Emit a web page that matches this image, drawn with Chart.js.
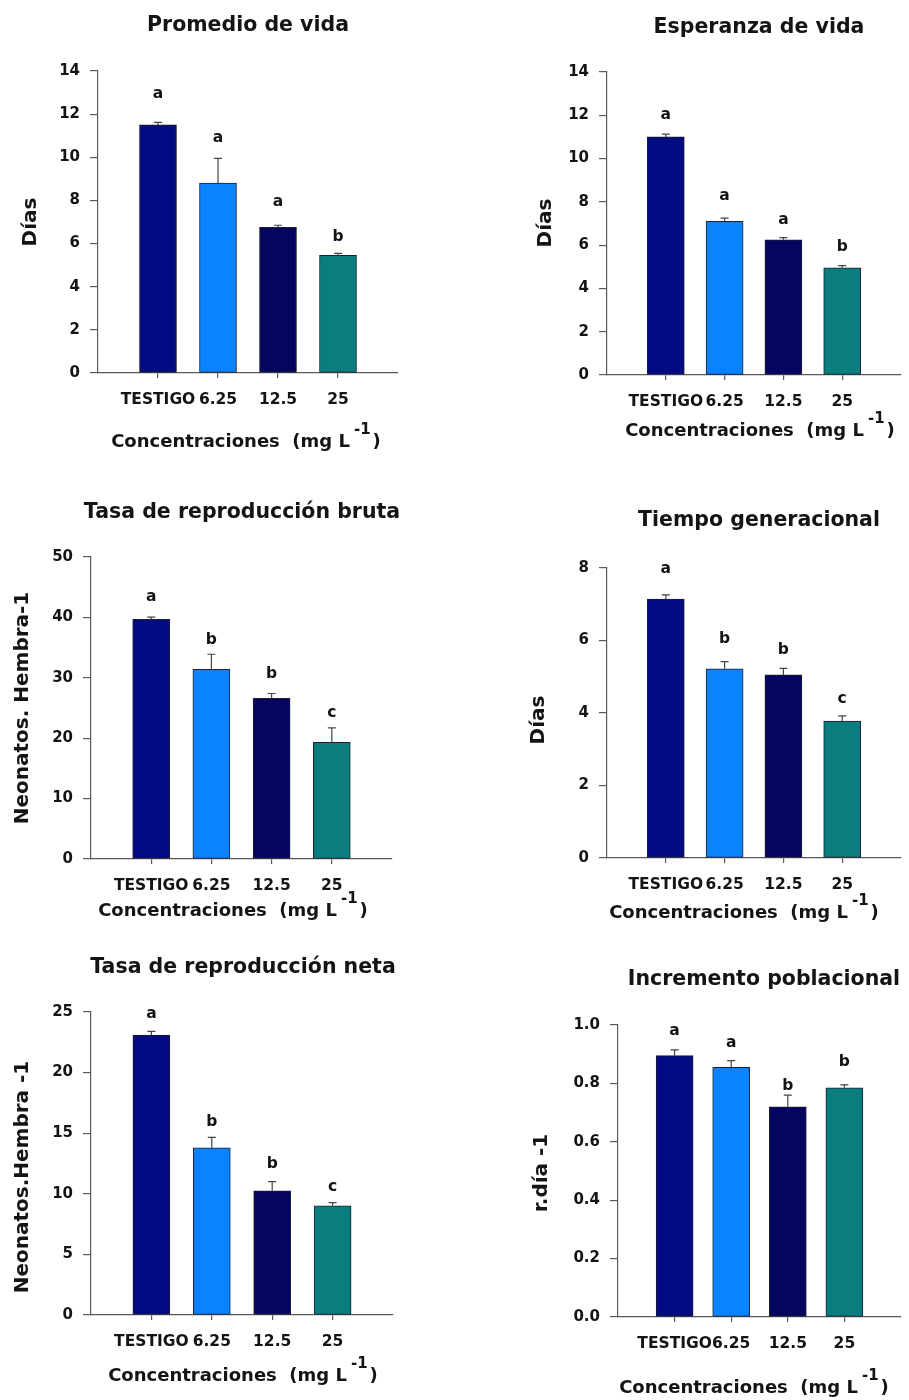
<!DOCTYPE html>
<html>
<head>
<meta charset="utf-8">
<script src="https://cdn.jsdelivr.net/npm/chart.js@4.4.1/dist/chart.umd.min.js"></script>
<style>
  html, body { margin: 0; padding: 0; background: #ffffff; width: 909px; height: 1400px; overflow: hidden; }
  canvas { position: absolute; }
</style>
</head>
<body>
<canvas id="c1"></canvas>
<canvas id="c2"></canvas>
<canvas id="c3"></canvas>
<canvas id="c4"></canvas>
<canvas id="c5"></canvas>
<canvas id="c6"></canvas>
<script>
// ---- data ----
const categories = ['TESTIGO', '6.25', '12.5', '25'];

const promedioVida      = [11.5, 8.8, 6.75, 5.45];
const promedioVidaErr   = [0.12, 1.15, 0.1, 0.1];
const promedioVidaGrp   = ['a', 'a', 'a', 'b'];
const promedioVidaGrpAt = [12.95, 10.9, 7.95, 6.3];

const esperanzaVida      = [11.0, 7.1, 6.25, 4.95];
const esperanzaVidaErr   = [0.13, 0.15, 0.1, 0.1];
const esperanzaVidaGrp   = ['a', 'a', 'a', 'b'];
const esperanzaVidaGrpAt = [12.0, 8.26, 7.15, 5.92];

const tasaBruta      = [39.7, 31.4, 26.6, 19.3];
const tasaBrutaErr   = [0.35, 2.5, 0.8, 2.4];
const tasaBrutaGrp   = ['a', 'b', 'b', 'c'];
const tasaBrutaGrpAt = [43.4, 36.2, 30.6, 24.2];

const tiempoGen      = [7.14, 5.22, 5.05, 3.78];
const tiempoGenErr   = [0.12, 0.2, 0.18, 0.14];
const tiempoGenGrp   = ['a', 'b', 'b', 'c'];
const tiempoGenGrpAt = [7.98, 6.05, 5.75, 4.4];

const tasaNeta      = [23.1, 13.8, 10.25, 9.0];
const tasaNetaErr   = [0.3, 0.85, 0.75, 0.28];
const tasaNetaGrp   = ['a', 'b', 'b', 'c'];
const tasaNetaGrpAt = [24.85, 15.95, 12.5, 10.6];

const incremento      = [0.895, 0.855, 0.72, 0.785];
const incrementoErr   = [0.02, 0.023, 0.04, 0.01];
const incrementoGrp   = ['a', 'a', 'b', 'b'];
const incrementoGrpAt = [0.98, 0.937, 0.79, 0.872];

// ---- styling ----
const barColors = ['#020b82', '#0b82ff', '#03055f', '#0a7d7e'];
const axisColor = '#5a5a5a';
const textColor = '#141414';
const FONT = '"DejaVu Sans", sans-serif';
const X_SCALE_H = 40;

// canvas box [left, top, width, height], plot area [left, top, right, bottom]
const panels = [
  { id: 'c1', box: [0, 0, 454, 470],     area: [98, 71, 398, 373],    max: 14,  step: 2,
    title: 'Promedio de vida', titleAt: [248, 26], yTitle: 'Días', yTitleAt: [31, 222], xTitleAt: [246, 442],
    values: promedioVida, err: promedioVidaErr, grp: promedioVidaGrp, grpAt: promedioVidaGrpAt },
  { id: 'c2', box: [454, 0, 460, 470],   area: [607, 72, 907, 375],   max: 14,  step: 2,
    title: 'Esperanza de vida', titleAt: [759, 28], yTitle: 'Días', yTitleAt: [546, 223], xTitleAt: [760, 431],
    values: esperanzaVida, err: esperanzaVidaErr, grp: esperanzaVidaGrp, grpAt: esperanzaVidaGrpAt },
  { id: 'c3', box: [0, 470, 454, 470],   area: [91, 557, 392, 859],   max: 50,  step: 10,
    title: 'Tasa de reproducción bruta', titleAt: [242, 513], yTitle: 'Neonatos. Hembra-1', yTitleAt: [23, 708], xTitleAt: [233, 911],
    values: tasaBruta, err: tasaBrutaErr, grp: tasaBrutaGrp, grpAt: tasaBrutaGrpAt },
  { id: 'c4', box: [454, 470, 460, 470], area: [607, 568, 907, 858],  max: 8,   step: 2,
    title: 'Tiempo generacional', titleAt: [759, 521], yTitle: 'Días', yTitleAt: [539, 720], xTitleAt: [744, 913],
    values: tiempoGen, err: tiempoGenErr, grp: tiempoGenGrp, grpAt: tiempoGenGrpAt },
  { id: 'c5', box: [0, 940, 454, 460],   area: [91, 1012, 393, 1315], max: 25,  step: 5,
    title: 'Tasa de reproducción neta', titleAt: [243, 968], yTitle: 'Neonatos.Hembra -1', yTitleAt: [23, 1177], xTitleAt: [243, 1376],
    values: tasaNeta, err: tasaNetaErr, grp: tasaNetaGrp, grpAt: tasaNetaGrpAt },
  { id: 'c6', box: [454, 940, 460, 460], area: [618, 1025, 911, 1317], max: 1.0, step: 0.2, decimals: 1,
    title: 'Incremento poblacional', titleAt: [764, 980], yTitle: 'r.día -1', yTitleAt: [542, 1173], xTitleAt: [754, 1388],
    values: incremento, err: incrementoErr, grp: incrementoGrp, grpAt: incrementoGrpAt }
];

// empty slot on each side of the four concentrations
const pad = a => [null, ...a, null];

// error bars, group letters and all panel texts
const annotate = {
  id: 'annotate',
  afterDatasetsDraw(chart, args, o) {
    const ctx = chart.ctx;
    const ys = chart.scales.y;
    const meta = chart.getDatasetMeta(0);
    const data = chart.data.datasets[0].data;
    ctx.save();
    meta.data.forEach((bar, i) => {
      const v = data[i];
      if (v == null) return;
      const e = o.err[i];
      const x = bar.x;
      const y0 = ys.getPixelForValue(v);
      const y1 = ys.getPixelForValue(v + e);
      ctx.strokeStyle = '#444444';
      ctx.lineWidth = 1.2;
      ctx.beginPath();
      ctx.moveTo(x, y0); ctx.lineTo(x, y1);
      ctx.moveTo(x - 4, y1); ctx.lineTo(x + 4, y1);
      ctx.stroke();
      ctx.fillStyle = textColor;
      ctx.font = 'bold 15.5px ' + FONT;
      ctx.textAlign = 'center';
      ctx.textBaseline = 'middle';
      ctx.fillText(o.grp[i], x, ys.getPixelForValue(o.grpAt[i]));
    });
    ctx.restore();
  },
  afterDraw(chart, args, o) {
    const ctx = chart.ctx;
    ctx.save();
    ctx.fillStyle = textColor;
    ctx.textBaseline = 'middle';
    // title
    ctx.font = 'bold 20.5px ' + FONT;
    ctx.textAlign = 'center';
    ctx.fillText(o.title, o.titleAt[0], o.titleAt[1]);
    // y title
    ctx.save();
    ctx.translate(o.yTitleAt[0], o.yTitleAt[1]);
    ctx.rotate(-Math.PI / 2);
    ctx.font = 'bold 20px ' + FONT;
    ctx.fillText(o.yTitle, 0, 0);
    ctx.restore();
    // x title with superscript
    const main = 'bold 18px ' + FONT, sup = 'bold 15px ' + FONT;
    const p1 = 'Concentraciones  (mg L', p2 = '-1', p3 = ')';
    ctx.font = main;
    const w1 = ctx.measureText(p1).width, w3 = ctx.measureText(p3).width;
    ctx.font = sup;
    const w2 = ctx.measureText(p2).width;
    const g1 = 4, g2 = 2;
    let x = o.xTitleAt[0] - (w1 + g1 + w2 + g2 + w3) / 2;
    const y = o.xTitleAt[1];
    ctx.textAlign = 'left';
    ctx.font = main; ctx.fillText(p1, x, y); x += w1 + g1;
    ctx.font = sup;  ctx.fillText(p2, x, y - 12); x += w2 + g2;
    ctx.font = main; ctx.fillText(p3, x, y);
    ctx.restore();
  }
};

Chart.defaults.font.family = FONT;
Chart.defaults.font.weight = 'bold';
Chart.defaults.color = textColor;

panels.forEach(p => {
  const [bl, bt, bw, bh] = p.box;
  const [al, at, ar, ab] = p.area;
  const cv = document.getElementById(p.id);
  cv.width = bw; cv.height = bh;
  cv.style.left = bl + 'px'; cv.style.top = bt + 'px';
  cv.style.width = bw + 'px'; cv.style.height = bh + 'px';
  const lastIdx = categories.length + 1;

  new Chart(cv, {
    type: 'bar',
    data: {
      labels: ['', ...categories, ''],
      datasets: [{
        data: pad(p.values),
        backgroundColor: pad(barColors),
        borderColor: '#1e1e2e',
        borderWidth: 1,
        borderSkipped: false,
        barThickness: 37
      }]
    },
    options: {
      responsive: false,
      animation: false,
      devicePixelRatio: 1,
      layout: {
        padding: { left: 0, top: at - bt, right: bl + bw - ar, bottom: bt + bh - ab - X_SCALE_H }
      },
      plugins: {
        legend: { display: false },
        tooltip: { enabled: false },
        title: { display: false },
        annotate: {
          err: pad(p.err), grp: pad(p.grp), grpAt: pad(p.grpAt),
          title: p.title, titleAt: [p.titleAt[0] - bl, p.titleAt[1] - bt],
          yTitle: p.yTitle, yTitleAt: [p.yTitleAt[0] - bl, p.yTitleAt[1] - bt],
          xTitleAt: [p.xTitleAt[0] - bl, p.xTitleAt[1] - bt]
        }
      },
      scales: {
        x: {
          type: 'category',
          offset: false,
          afterFit: s => { s.height = X_SCALE_H; },
          border: { display: true, color: axisColor, width: 1.2 },
          grid: {
            offset: false,
            drawOnChartArea: false,
            drawTicks: true,
            tickLength: 5,
            lineWidth: 1.2,
            tickColor: c => (c.index === 0 || c.index === lastIdx) ? 'rgba(0,0,0,0)' : axisColor
          },
          ticks: {
            autoSkip: false, maxRotation: 0, minRotation: 0, padding: 13,
            color: textColor, font: { size: 15.5, weight: 'bold', family: FONT }
          }
        },
        y: {
          min: 0, max: p.max,
          afterFit: s => { s.width = al - bl; },
          border: { display: true, color: axisColor, width: 1.2 },
          grid: { drawOnChartArea: false, drawTicks: true, tickLength: 8, lineWidth: 1.2, tickColor: axisColor },
          ticks: {
            stepSize: p.step, padding: 10, color: textColor,
            font: { size: 15, weight: 'bold', family: FONT },
            callback: v => p.decimals ? Number(v).toFixed(p.decimals) : String(Math.round(v * 100) / 100)
          }
        }
      }
    },
    plugins: [annotate]
  });
});
</script>
</body>
</html>
